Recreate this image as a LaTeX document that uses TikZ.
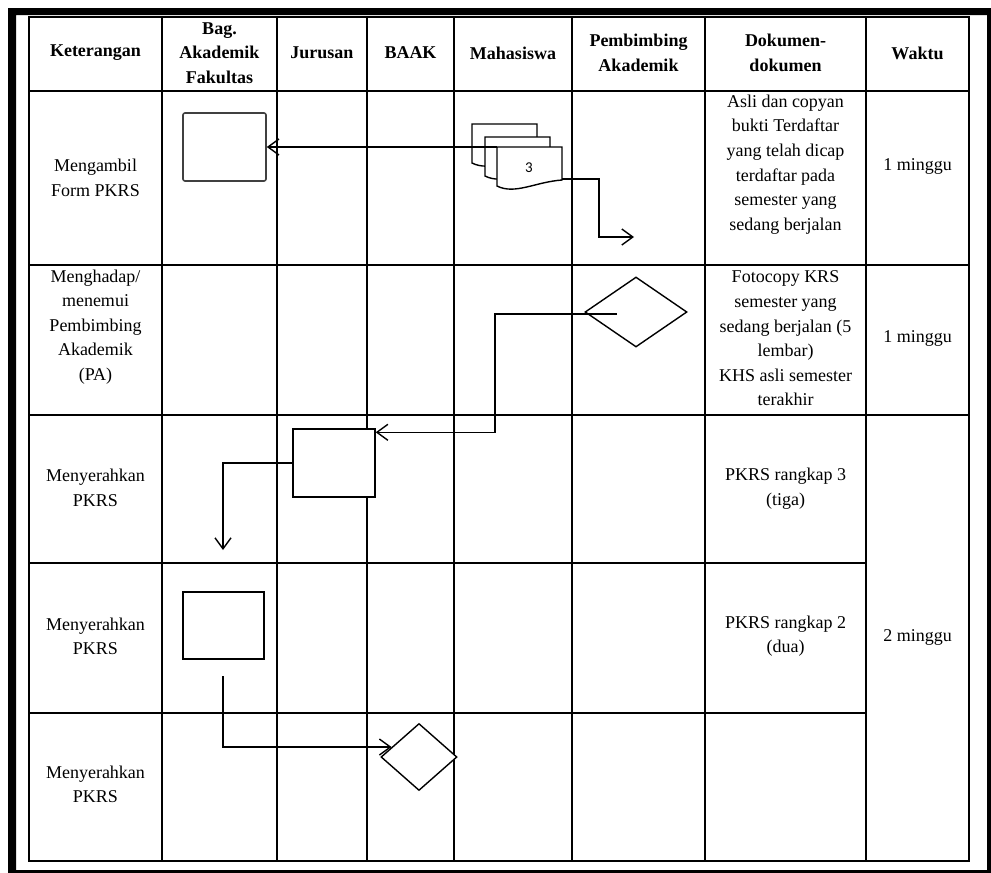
\documentclass[tikz,border=0pt]{standalone}
\usepackage{fontspec}
\setmainfont{Liberation Serif}
\newfontfamily\carl{Carlito}
\usetikzlibrary{shapes.geometric,arrows.meta}
\begin{document}
\begin{tikzpicture}[x=1pt,y=-1pt,
  grid/.style={line width=1.6pt},
  box/.style={draw, fill=white, line width=1.4pt, inner sep=0pt, rectangle},
  dia/.style={draw, fill=white, line width=1.4pt, diamond, inner sep=0pt},
  docshape/.style={fill=white, draw, line width=1.4pt},
  arr/.style={line width=1.4pt, -{Straight Barb[length=11pt,width=16pt]}},
  txt/.style={align=center, font=\fontsize{18}{24.6}\selectfont, inner sep=0pt},
  hdr/.style={align=center, font=\fontsize{18}{24.6}\selectfont\bfseries, inner sep=0pt}
]
\useasboundingbox (0,0) rectangle (991,873);
% outer thick frame
\fill[black, even odd rule] (8,8) rectangle (991,873) (16,15) rectangle (987,870);

% table grid
\foreach \x in {162,277,367,454,572,705,866} \draw[grid] (\x,17) -- (\x,861);
\foreach \y in {91,265,415} \draw[grid] (29,\y) -- (969,\y);
\foreach \y in {563,713} \draw[grid] (29,\y) -- (866,\y);
\draw[grid] (29,17) rectangle (969,861);

% shapes
\node[box, draw=black!75, line width=1.6pt, rounded corners=2pt, minimum width=83pt, minimum height=68pt] (r1) at (224.5,147) {};
\node[box, minimum width=82pt, minimum height=68pt] (r2) at (334,463) {};
\node[box, minimum width=81pt, minimum height=67pt] (r3) at (223.5,625.5) {};
\node[dia, minimum width=102pt, minimum height=70pt] (d1) at (636,312) {};
\node[dia, minimum width=76pt, minimum height=67pt] (d2) at (419,757) {};

% multi-document
\foreach \dx/\dy in {-25/-23,-12/-10,0/0}
  \filldraw[docshape, shift={(\dx,\dy)}] (497,186) -- (497,147) -- (562,147) -- (562,180)
     .. controls (535,182) and (515,195) .. (497,186) -- cycle;
\node[inner sep=0pt, outer sep=0pt, minimum width=65pt, minimum height=39pt, anchor=north west] (doc) at (497,147) {};
\node[font=\carl\fontsize{15}{17}\selectfont, inner sep=0pt] (n3) at (529,168) {3};

% connectors
\draw[arr] (doc.north west) -- (r1.east);
\coordinate (docout) at (562,179);
\coordinate (e1) at (634,237);
\draw[arr] (docout) -- ++(37,0) |- (e1);
\coordinate (d1in) at (617,314);
\draw[arr] (d1in) -- ++(-122,0) |- ([yshift=-4pt]r2.north east);
\coordinate (e3) at (223,550);
\draw[arr] (r2.west) -| (e3);
\coordinate (s4) at (223,676);
\draw[arr] (s4) |- (d2.160);

% header
\node[hdr] (h1) at (95.5,53) {Keterangan};
\node[hdr] (h2) at (219.5,53) {Bag.\\Akademik\\Fakultas};
\node[hdr] (h3) at (322,53) {Jurusan};
\node[hdr] (h4) at (410.5,53) {BAAK};
\node[hdr] (h5) at (513,53) {Mahasiswa};
\node[hdr] (h6) at (638.5,53) {Pembimbing\\Akademik};
\node[hdr] (h7) at (785.5,53) {Dokumen-\\dokumen};
\node[hdr] (h8) at (917.5,53) {Waktu};

% body text
\node[txt] (k1) at (95.5,178) {Mengambil\\Form PKRS};
\node[txt] (k2) at (95.5,327) {Menghadap/\\menemui\\Pembimbing\\Akademik\\(PA)};
\node[txt] (k3) at (95.5,488) {Menyerahkan\\PKRS};
\node[txt] (k4) at (95.5,636.5) {Menyerahkan\\PKRS};
\node[txt] (k5) at (95.5,784.5) {Menyerahkan\\PKRS};
\node[txt] (t1) at (785.5,164.5) {Asli dan copyan\\bukti Terdaftar\\yang telah dicap\\terdaftar pada\\semester yang\\sedang berjalan};
\node[txt] (t2) at (785.5,338.5) {Fotocopy KRS\\semester yang\\sedang berjalan (5\\lembar)\\KHS asli semester\\terakhir};
\node[txt] (t3) at (785.5,488.5) {PKRS rangkap 3\\(tiga)};
\node[txt] (t4) at (785.5,636) {PKRS rangkap 2\\(dua)};
\node[txt] (w1) at (917.5,166) {1 minggu};
\node[txt] (w2) at (917.5,338) {1 minggu};
\node[txt] (w3) at (917.5,637) {2 minggu};
\end{tikzpicture}
\end{document}
